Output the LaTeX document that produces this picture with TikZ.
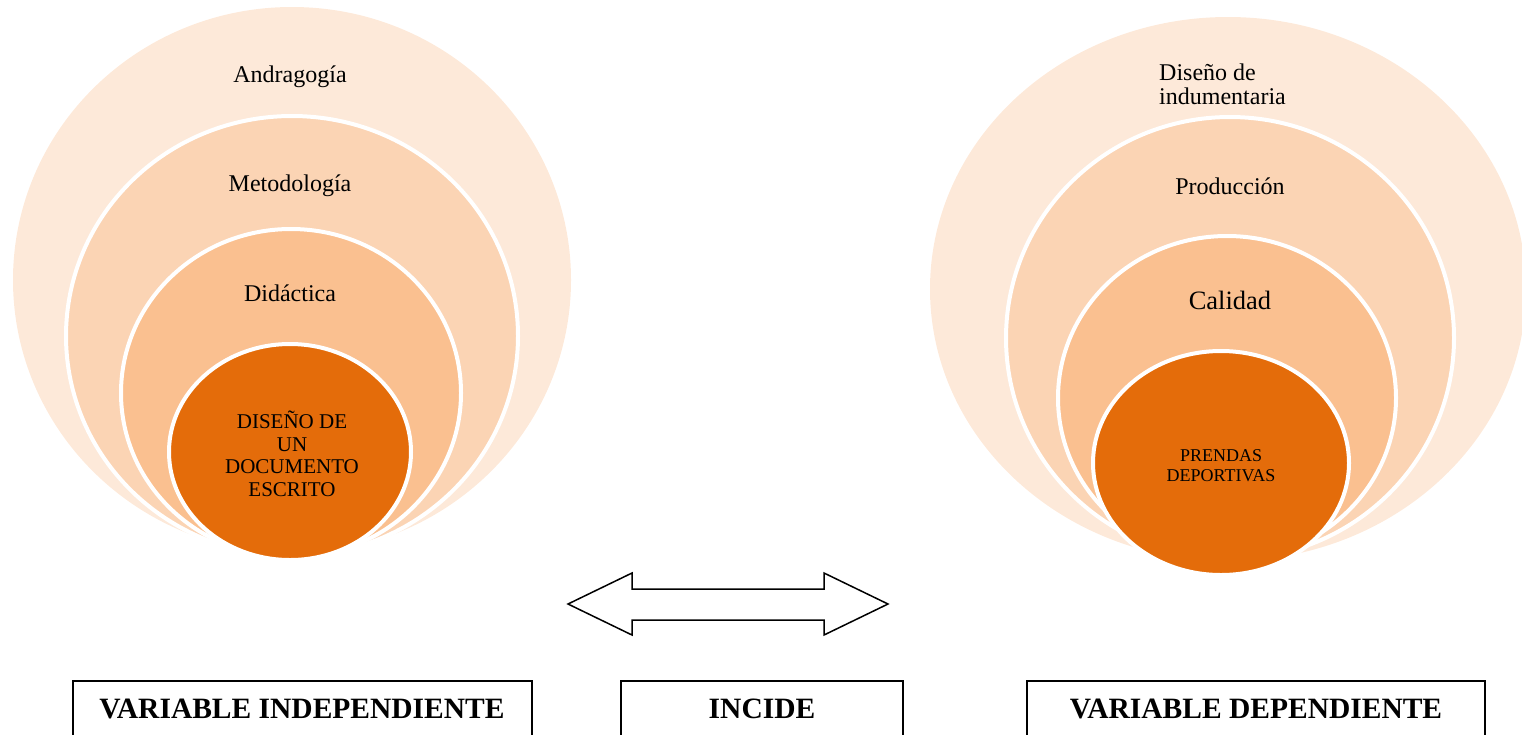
\documentclass[tikz,border=0pt]{standalone}
\usepackage{fontspec}
\setmainfont{Liberation Serif}
\definecolor{ringA}{HTML}{FDE9D9}
\definecolor{ringB}{HTML}{FBD4B4}
\definecolor{ringC}{HTML}{FAC090}
\definecolor{ringD}{HTML}{E46C0A}
\tikzset{
  ring/.style={draw=white, line width=4pt},
  lbl/.style={inner sep=0pt, text=black, font=\fontsize{24}{25}\selectfont},
  corelbl/.style={inner sep=0pt, align=center, text=black},
  varbox/.style={draw=black, line width=1.6pt},
  boxlbl/.style={inner sep=0pt, font=\fontsize{29.5}{31}\selectfont\bfseries},
  bigarrow/.style={draw=black, line width=1.5pt, fill=white, line join=miter}
}
\begin{document}
\begin{tikzpicture}[x=1pt, y=-1pt]
\useasboundingbox (0,0) rectangle (1522,734);
\clip (0,0) rectangle (1522,734);

% ---- independent variable: nested rings ----
\fill[ringA] (292,280) ellipse [x radius=279, y radius=273];
\path[ring, fill=ringB] (292,336) ellipse [x radius=226, y radius=220];
\path[ring, fill=ringC] (291,393) ellipse [x radius=170, y radius=164];
\path[ring, fill=ringD] (290,452) ellipse [x radius=121, y radius=108];

\node[lbl] (andra) at (290,77) {Andragogía};
\node[lbl] (metod) at (290,186) {Metodología};
\node[lbl] (didac) at (290,293) {Didáctica};
\node[corelbl, font=\fontsize{21}{22.5}\selectfont] (docu) at (292,454)
  {DISEÑO DE\\UN\\DOCUMENTO\\ESCRITO};

% ---- dependent variable: nested rings ----
\fill[ringA] (1228,289) ellipse [x radius=298, y radius=272];
\path[ring, fill=ringB] (1230,338) ellipse [x radius=224, y radius=221];
\path[ring, fill=ringC] (1227,398) ellipse [x radius=169, y radius=162];
\path[ring, fill=ringD] (1221,463) ellipse [x radius=128, y radius=112];

\node[lbl, anchor=west] (dis1) at (1159,72) {Diseño de};
\node[lbl, anchor=west] (dis2) at (1159,96) {indumentaria};
\node[lbl] (prod) at (1230,186) {Producción};
\node[lbl, font=\fontsize{26.5}{28}\selectfont] (cali) at (1230,300) {Calidad};
\node[corelbl, font=\fontsize{18}{20}\selectfont] (prend) at (1221,466)
  {PRENDAS\\DEPORTIVAS};

% ---- two-headed arrow ----
\draw[bigarrow] (568,604) -- (632,573) -- (632,589) -- (824,589) -- (824,573)
  -- (888,604) -- (824,635) -- (824,620) -- (632,620) -- (632,635) -- cycle;

% ---- labels along the bottom ----
\draw[varbox] (73,681) rectangle (532,760);
\draw[varbox] (621,681) rectangle (903,760);
\draw[varbox] (1027,681) rectangle (1485,760);
\node[boxlbl] (vi) at (302,709) {VARIABLE INDEPENDIENTE};
\node[boxlbl] (inc) at (762,709) {INCIDE};
\node[boxlbl] (vd) at (1256,709) {VARIABLE DEPENDIENTE};
\end{tikzpicture}
\end{document}
